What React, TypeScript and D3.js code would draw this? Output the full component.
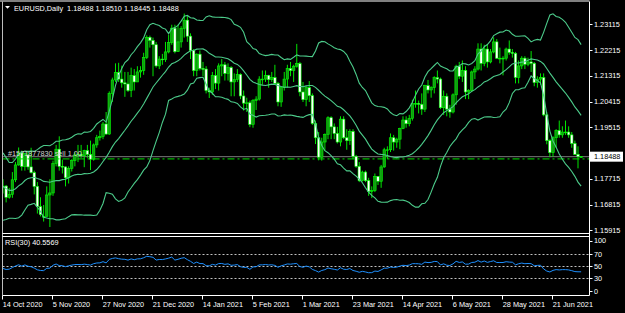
import React from 'react';
import * as d3 from 'd3';

// ---------- data (EURUSD daily, 14 Oct 2020 .. 2 Jul 2021) ----------
// closes before the first visible bar (warm-up for Bollinger(20) and RSI(30))
const preCloses = [
  1.1870, 1.1930, 1.1835, 1.1860, 1.1795, 1.1795, 1.1835, 1.1830, 1.1820, 1.1905,
  1.1935, 1.1915, 1.1855, 1.1850, 1.1838, 1.1815, 1.1780, 1.1800, 1.1815, 1.1845,
  1.1865, 1.1845, 1.1815, 1.1850, 1.1840, 1.1770, 1.1705, 1.1660, 1.1670, 1.1630,
  1.1665, 1.1745, 1.1720, 1.1750, 1.1715, 1.1780, 1.1735, 1.1760, 1.1760, 1.1825,
  1.1815, 1.1745,
];

const opens = [
  // Oct
  1.1745, 1.1746, 1.1707, 1.1717, 1.1768, 1.1820, 1.1862, 1.1815, 1.1855, 1.1813, 1.1793, 1.1745, 1.1674,
  // Nov
  1.1640, 1.1640, 1.1715, 1.1722, 1.1825, 1.1875, 1.1815, 1.1813, 1.1775, 1.1808, 1.1835, 1.1855, 1.1857, 1.1852, 1.1870, 1.1857, 1.1840, 1.1890, 1.1915, 1.1920, 1.1963,
  // Dec
  1.1928, 1.2070, 1.2117, 1.2143, 1.2120, 1.2107, 1.2103, 1.2080, 1.2132, 1.2110, 1.2145, 1.2150, 1.2196, 1.2266, 1.2255, 1.2240, 1.2166, 1.2190, 1.2188, 1.2215, 1.2248, 1.2298,
  // Jan
  1.2216, 1.2250, 1.2297, 1.2326, 1.2270, 1.2220, 1.2150, 1.2207, 1.2157, 1.2155, 1.2080, 1.2075, 1.2132, 1.2106, 1.2166, 1.2170, 1.2140, 1.2160, 1.2110, 1.2118,
  // Feb
  1.2136, 1.2061, 1.2036, 1.2037, 1.1962, 1.2045, 1.2050, 1.2120, 1.2120, 1.2133, 1.2118, 1.2125, 1.2105, 1.2040, 1.2090, 1.2120, 1.2157, 1.2150, 1.2165, 1.2174,
  // Mar
  1.2075, 1.2048, 1.2090, 1.2062, 1.1965, 1.1915, 1.1847, 1.1900, 1.1927, 1.1985, 1.1953, 1.1930, 1.1900, 1.1980, 1.1915, 1.1905, 1.1937, 1.1850, 1.1815, 1.1765, 1.1795, 1.1765, 1.1727,
  // Apr
  1.1730, 1.1780, 1.1763, 1.1813, 1.1873, 1.1873, 1.1915, 1.1900, 1.1910, 1.1947, 1.1977, 1.1964, 1.1983, 1.2035, 1.2035, 1.2032, 1.2015, 1.2097, 1.2082, 1.2090, 1.2125, 1.2120,
  // May
  1.2020, 1.2060, 1.2015, 1.2005, 1.2065, 1.2165, 1.2130, 1.2150, 1.2075, 1.2080, 1.2145, 1.2155, 1.2225, 1.2175, 1.2225, 1.2180, 1.2215, 1.2250, 1.2193, 1.2193, 1.2193,
  // Jun
  1.2225, 1.2213, 1.2210, 1.2126, 1.2166, 1.2193, 1.2172, 1.2180, 1.2175, 1.2108, 1.2120, 1.2125, 1.1995, 1.1905, 1.1863, 1.1915, 1.1940, 1.1925, 1.1935, 1.1935, 1.1925, 1.1895,
  // Jul
  1.1857, 1.18488,
];

const highs = [
  1.1770, 1.1750, 1.1740, 1.1795, 1.1830, 1.1881, 1.1870, 1.1860, 1.1870, 1.1880, 1.1800, 1.1760, 1.1707,
  1.1680, 1.1745, 1.1770, 1.1835, 1.1890, 1.1920, 1.1838, 1.1815, 1.1815, 1.1840, 1.1865, 1.1890, 1.1890, 1.1873, 1.1890, 1.1905, 1.1895, 1.1925, 1.1940, 1.1970, 1.2005,
  1.2077, 1.2125, 1.2175, 1.2177, 1.2167, 1.2145, 1.2145, 1.2160, 1.2155, 1.2165, 1.2165, 1.2212, 1.2273, 1.2272, 1.2265, 1.2250, 1.2200, 1.2208, 1.2250, 1.2275, 1.2310, 1.2310,
  1.2310, 1.2305, 1.2349, 1.2340, 1.2280, 1.2225, 1.2210, 1.2220, 1.2180, 1.2165, 1.2090, 1.2145, 1.2155, 1.2175, 1.2190, 1.2180, 1.2175, 1.2165, 1.2140, 1.2155,
  1.2140, 1.2080, 1.2055, 1.2045, 1.2050, 1.2060, 1.2130, 1.2150, 1.2150, 1.2135, 1.2145, 1.2170, 1.2110, 1.2095, 1.2145, 1.2170, 1.2180, 1.2170, 1.2243, 1.2180,
  1.2110, 1.2095, 1.2113, 1.2070, 1.1975, 1.1935, 1.1915, 1.1930, 1.1990, 1.1990, 1.1965, 1.1953, 1.1990, 1.1990, 1.1945, 1.1945, 1.1945, 1.1855, 1.1830, 1.1800, 1.1800, 1.1775, 1.1745,
  1.1790, 1.1780, 1.1820, 1.1880, 1.1885, 1.1930, 1.1925, 1.1915, 1.1950, 1.1990, 1.1990, 1.1995, 1.2048, 1.2080, 1.2045, 1.2070, 1.2100, 1.2117, 1.2095, 1.2130, 1.2150, 1.2125,
  1.2080, 1.2070, 1.2030, 1.2070, 1.2170, 1.2180, 1.2185, 1.2165, 1.2085, 1.2150, 1.2165, 1.2245, 1.2245, 1.2240, 1.2240, 1.2225, 1.2266, 1.2260, 1.2230, 1.2200, 1.2230,
  1.2255, 1.2225, 1.2215, 1.2185, 1.2200, 1.2200, 1.2195, 1.2218, 1.2180, 1.2130, 1.2140, 1.2140, 1.2005, 1.1910, 1.1920, 1.1945, 1.1975, 1.1955, 1.1975, 1.1955, 1.1935, 1.1905,
  1.1885, 1.18510,
];

const lows = [
  1.1720, 1.1689, 1.1702, 1.1705, 1.1760, 1.1817, 1.1800, 1.1800, 1.1803, 1.1790, 1.1717, 1.1650, 1.1640,
  1.1622, 1.1640, 1.1603, 1.1712, 1.1815, 1.1800, 1.1790, 1.1745, 1.1755, 1.1797, 1.1815, 1.1830, 1.1845, 1.1812, 1.1845, 1.1802, 1.1835, 1.1880, 1.1905, 1.1910, 1.1925,
  1.1925, 1.2040, 1.2110, 1.2110, 1.2090, 1.2058, 1.2075, 1.2057, 1.2080, 1.2110, 1.2125, 1.2135, 1.2190, 1.2230, 1.2130, 1.2160, 1.2155, 1.2170, 1.2180, 1.2210, 1.2240, 1.2210,
  1.2215, 1.2230, 1.2265, 1.2250, 1.2190, 1.2130, 1.2130, 1.2150, 1.2130, 1.2070, 1.2054, 1.2065, 1.2085, 1.2080, 1.2130, 1.2115, 1.2115, 1.2060, 1.2060, 1.2110,
  1.2050, 1.2010, 1.2005, 1.1952, 1.1950, 1.2012, 1.2045, 1.2100, 1.2110, 1.2090, 1.2110, 1.2100, 1.2025, 1.2023, 1.2080, 1.2090, 1.2130, 1.2110, 1.2160, 1.2060,
  1.2040, 1.2025, 1.2040, 1.1960, 1.1893, 1.1836, 1.1835, 1.1870, 1.1910, 1.1910, 1.1910, 1.1895, 1.1885, 1.1910, 1.1873, 1.1890, 1.1840, 1.1810, 1.1760, 1.1762, 1.1760, 1.1712, 1.1704,
  1.1725, 1.1750, 1.1740, 1.1810, 1.1840, 1.1865, 1.1870, 1.1880, 1.1875, 1.1945, 1.1950, 1.1955, 1.1975, 1.2020, 1.2000, 1.1995, 1.2005, 1.2070, 1.2055, 1.2070, 1.2105, 1.2015,
  1.1995, 1.1990, 1.1985, 1.2000, 1.2030, 1.2120, 1.2110, 1.2050, 1.2050, 1.2075, 1.2120, 1.2150, 1.2150, 1.2165, 1.2160, 1.2175, 1.2210, 1.2190, 1.2175, 1.2133, 1.2185,
  1.2205, 1.2195, 1.2105, 1.2105, 1.2155, 1.2155, 1.2165, 1.2145, 1.2095, 1.2090, 1.2100, 1.1990, 1.1892, 1.1847, 1.1848, 1.1880, 1.1915, 1.1915, 1.1925, 1.1915, 1.1880, 1.1855,
  1.1808, 1.18445,
];

const closes = [
  1.1746, 1.1707, 1.1717, 1.1768, 1.1820, 1.1862, 1.1815, 1.1860, 1.1813, 1.1793, 1.1745, 1.1674, 1.1647,
  1.1640, 1.1715, 1.1722, 1.1825, 1.1875, 1.1815, 1.1813, 1.1775, 1.1808, 1.1835, 1.1855, 1.1857, 1.1852, 1.1870, 1.1857, 1.1840, 1.1890, 1.1915, 1.1920, 1.1963, 1.1928,
  1.2070, 1.2117, 1.2143, 1.2120, 1.2107, 1.2103, 1.2080, 1.2132, 1.2110, 1.2145, 1.2150, 1.2196, 1.2266, 1.2255, 1.2240, 1.2166, 1.2190, 1.2188, 1.2215, 1.2248, 1.2298, 1.2216,
  1.2250, 1.2297, 1.2326, 1.2270, 1.2220, 1.2150, 1.2207, 1.2157, 1.2155, 1.2080, 1.2075, 1.2132, 1.2106, 1.2166, 1.2170, 1.2140, 1.2160, 1.2110, 1.2118, 1.2136,
  1.2061, 1.2036, 1.2037, 1.1962, 1.2045, 1.2050, 1.2120, 1.2120, 1.2133, 1.2118, 1.2125, 1.2105, 1.2040, 1.2090, 1.2120, 1.2157, 1.2150, 1.2165, 1.2174, 1.2075,
  1.2048, 1.2090, 1.2062, 1.1965, 1.1915, 1.1847, 1.1900, 1.1927, 1.1985, 1.1953, 1.1930, 1.1900, 1.1980, 1.1915, 1.1905, 1.1937, 1.1850, 1.1815, 1.1765, 1.1795, 1.1765, 1.1727, 1.1730,
  1.1780, 1.1763, 1.1813, 1.1873, 1.1873, 1.1915, 1.1900, 1.1910, 1.1947, 1.1977, 1.1964, 1.1983, 1.2035, 1.2035, 1.2032, 1.2015, 1.2097, 1.2082, 1.2090, 1.2125, 1.2120, 1.2020,
  1.2060, 1.2015, 1.2005, 1.2065, 1.2165, 1.2130, 1.2150, 1.2075, 1.2080, 1.2145, 1.2155, 1.2225, 1.2175, 1.2225, 1.2180, 1.2215, 1.2250, 1.2193, 1.2193, 1.2193, 1.2225,
  1.2213, 1.2210, 1.2126, 1.2166, 1.2193, 1.2172, 1.2180, 1.2175, 1.2108, 1.2120, 1.2125, 1.1995, 1.1905, 1.1863, 1.1915, 1.1940, 1.1925, 1.1935, 1.1935, 1.1925, 1.1895, 1.1857,
  1.1849, 1.18488,
];

const dateLabels = [
  '14 Oct 2020', '5 Nov 2020', '27 Nov 2020', '21 Dec 2020', '14 Jan 2021', '5 Feb 2021',
  '1 Mar 2021', '23 Mar 2021', '14 Apr 2021', '6 May 2021', '28 May 2021', '21 Jun 2021',
];
const dateLabelBars = [0, 16, 32, 48, 64, 80, 96, 112, 128, 144, 160, 176];

const priceTicks = [1.23115, 1.22215, 1.21315, 1.20415, 1.19515, 1.18615, 1.17715, 1.16815, 1.15915];
const rsiLevels = [70, 50, 30];
const rsiTicks = [100, 70, 50, 30, 0];

const bidPrice = 1.18488;
const orderPrice = 1.1841;
const orderLabel = '#1571877830 sell 1.00';
const title = 'EURUSD,Daily  1.18488 1.18510 1.18445 1.18488';
const rsiTitle = 'RSI(30) 40.5569';

const FONT = "'Liberation Sans', Arial, sans-serif";

export default function App() {
  const off = preCloses.length;
  const all = [...preCloses, ...closes];

  // Bollinger Bands (20, 2)
  const period = 20;
  const bands = closes.map((_, i) => {
    const j = i + off;
    const win = all.slice(j - period + 1, j + 1);
    const m = d3.mean(win) as number;
    const sd = Math.sqrt(d3.mean(win, (v) => (v - m) * (v - m)) as number);
    return { mid: m, up: m + 2 * sd, lo: m - 2 * sd };
  });

  // RSI(30), Wilder smoothing
  const rp = 30;
  const rsiAll: number[] = new Array(all.length).fill(NaN);
  let ag = 0, al = 0;
  for (let k = 1; k <= rp; k++) {
    const d = all[k] - all[k - 1];
    if (d > 0) ag += d; else al -= d;
  }
  ag /= rp; al /= rp;
  rsiAll[rp] = al === 0 ? 100 : 100 - 100 / (1 + ag / al);
  for (let k = rp + 1; k < all.length; k++) {
    const d = all[k] - all[k - 1];
    ag = (ag * (rp - 1) + (d > 0 ? d : 0)) / rp;
    al = (al * (rp - 1) + (d < 0 ? -d : 0)) / rp;
    rsiAll[k] = al === 0 ? 100 : 100 - 100 / (1 + ag / al);
  }
  const rsi = rsiAll.slice(off);

  const x = d3.scaleLinear().domain([0, 16]).range([3, 53]);
  const y = d3.scaleLinear().domain([1.15915, 1.23115]).range([230.3, 24.3]);
  const yr = d3.scaleLinear().domain([0, 100]).range([296, 236]);

  const bandLine = (key: 'up' | 'mid' | 'lo') =>
    d3.line<{ mid: number; up: number; lo: number }>()
      .x((_, i) => x(i))
      .y((d) => y(d[key]))(bands) as string;
  const rsiLine = d3.line<number>().x((_, i) => x(i)).y((d) => yr(d))(rsi) as string;

  const PL = 2.5, PR = 589.5, MT = 1.5, MB = 233.5, RT = 236.5, RB = 295.5;
  const bandColor = '#4ccb8a';
  const bidY = y(bidPrice);

  return (
    <svg width={625} height={313} style={{ position: 'absolute', left: 0, top: 0, background: '#000' }}
      fontFamily={FONT}>
      <rect x={0} y={0} width={625} height={313} fill="#000" />
      <defs>
        <clipPath id="mainClip"><rect x={PL + 0.5} y={MT + 0.5} width={PR - PL - 1} height={MB - MT - 1} /></clipPath>
        <clipPath id="rsiClip"><rect x={PL + 0.5} y={RT + 0.5} width={PR - PL - 1} height={RB - RT - 1} /></clipPath>
      </defs>

      {/* main panel */}
      <g clipPath="url(#mainClip)">
        <line x1={PL} x2={PR} y1={bidY} y2={bidY} stroke="#7a7a7a" strokeWidth={1} />
        {closes.map((c, i) => {
          const o = opens[i];
          const xc = x(i);
          const top = y(Math.max(o, c));
          const bot = y(Math.min(o, c));
          const bull = c >= o;
          return (
            <g key={i}>
              <line x1={xc} x2={xc} y1={y(highs[i])} y2={y(lows[i])} stroke="#00ff00" strokeWidth={0.9} />
              <rect x={xc - 1.25} y={top} width={2.5} height={Math.max(bot - top, 0.8)}
                fill={bull ? '#129a12' : '#ffffff'} stroke="#00ff00" strokeWidth={0.6} />
            </g>
          );
        })}
        <line x1={PL} x2={PR} y1={y(orderPrice)} y2={y(orderPrice)} stroke="#00e000" strokeWidth={1}
          strokeDasharray="7,3,2,3" />
        <path d={bandLine('up')} fill="none" stroke={bandColor} strokeWidth={1.1} />
        <path d={bandLine('mid')} fill="none" stroke={bandColor} strokeWidth={1.1} />
        <path d={bandLine('lo')} fill="none" stroke={bandColor} strokeWidth={1.1} />
        <text x={8} y={156} fontSize={7.3} fill="#d0d0d0">{orderLabel}</text>
      </g>

      {/* title */}
      <path d="M5,6 L10,6 L7.5,8.8 Z" fill="#fff" />
      <text x={14} y={10.5} fontSize={7.3} fill="#fff" style={{ whiteSpace: 'pre' }}>{title}</text>

      {/* rsi panel */}
      <g clipPath="url(#rsiClip)">
        {rsiLevels.map((lv) => (
          <line key={lv} x1={PL} x2={PR} y1={Math.round(yr(lv)) + 0.5} y2={Math.round(yr(lv)) + 0.5}
            stroke="#c0c0c0" strokeWidth={1} strokeDasharray="2,2" />
        ))}
        <path d={rsiLine} fill="none" stroke="#1e90ff" strokeWidth={1} />
      </g>
      <text x={5} y={245} fontSize={7.3} fill="#fff">{rsiTitle}</text>

      {/* frames */}
      <line x1={0} x2={PR} y1={MT - 0.5} y2={MT - 0.5} stroke="#808080" strokeWidth={2} />
      <line x1={PL} x2={PL} y1={MT} y2={RB} stroke="#bdbdbd" strokeWidth={1} />
      <line x1={PR} x2={PR} y1={MT} y2={RB} stroke="#fff" strokeWidth={1} />
      <line x1={PL} x2={PR} y1={MB} y2={MB} stroke="#fff" strokeWidth={1} />
      <line x1={PL} x2={PR} y1={RT} y2={RT} stroke="#fff" strokeWidth={1} />
      <line x1={PL} x2={PR} y1={RB} y2={RB} stroke="#fff" strokeWidth={1} />

      {/* price axis (the label hidden by the price box is not drawn) */}
      {priceTicks.filter((p) => Math.abs(y(p) - bidY) > 8).map((p) => (
        <g key={p}>
          <line x1={PR} x2={PR + 3} y1={Math.round(y(p)) + 0.5} y2={Math.round(y(p)) + 0.5} stroke="#fff" />
          <text x={594} y={y(p) + 2.6} fontSize={7.3} fill="#fff">{p.toFixed(5)}</text>
        </g>
      ))}
      <rect x={590} y={bidY - 5} width={33} height={10} fill="#fff" />
      <text x={594} y={bidY + 2.6} fontSize={7.3} fill="#000">{bidPrice.toFixed(5)}</text>

      {/* rsi axis */}
      {rsiTicks.map((t) => {
        const ty = t === 100 ? 240.7 : t === 0 ? 291.3 : yr(t);
        return (
          <g key={t}>
            <line x1={PR} x2={PR + 3} y1={Math.round(ty) + 0.5} y2={Math.round(ty) + 0.5} stroke="#fff" />
            <text x={594} y={ty + 2.6} fontSize={7.3} fill="#fff">{t}</text>
          </g>
        );
      })}

      {/* date axis */}
      {dateLabels.map((lab, k) => {
        const xx = Math.round(x(dateLabelBars[k])) - 0.5;
        return (
          <g key={lab}>
            <line x1={xx} x2={xx} y1={RB} y2={RB + 4} stroke="#fff" />
            <text x={xx + 0.3} y={306.5} fontSize={7.3} fill="#fff">{lab}</text>
          </g>
        );
      })}
    </svg>
  );
}
